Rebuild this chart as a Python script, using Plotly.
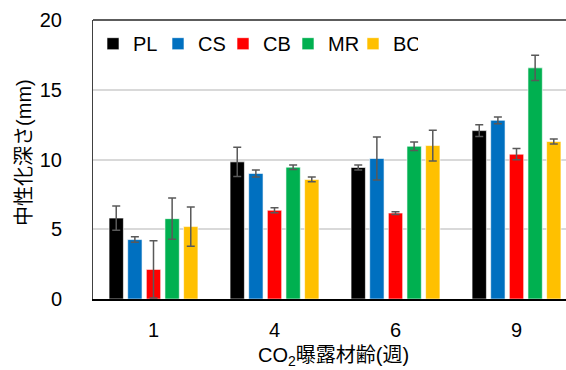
import plotly.graph_objects as go

weeks = ["1", "4", "6", "9"]
series = ["PL", "CS", "CB", "MR", "BC"]
colors = ["#000000", "#0070C0", "#FF0000", "#00B050", "#FFC000"]

PL = [5.8, 9.83, 9.43, 12.07]
CS = [4.26, 9.0, 10.07, 12.81]
CB = [2.12, 6.36, 6.16, 10.38]
MR = [5.76, 9.45, 10.95, 16.57]
BC = [5.19, 8.57, 11.0, 11.29]

PL_err = [0.87, 1.05, 0.18, 0.43]
CS_err = [0.2, 0.25, 1.54, 0.24]
CB_err = [2.05, 0.18, 0.1, 0.4]
MR_err = [1.48, 0.16, 0.3, 0.9]
BC_err = [1.4, 0.17, 1.1, 0.18]

values = [PL, CS, CB, MR, BC]
errors = [PL_err, CS_err, CB_err, MR_err, BC_err]

font_latin = "Liberation Sans, Arial, sans-serif"
font_cjk = "Liberation Sans, Noto Sans CJK JP, sans-serif"

fig = go.Figure()
for name, col, v, e in zip(series, colors, values, errors):
    fig.add_trace(go.Bar(
        name=name, x=weeks, y=v,
        marker=dict(color=col, line=dict(color="rgba(255,255,255,0.6)", width=1)),
        error_y=dict(type="data", array=e, visible=True, color="#595959",
                     thickness=1.5, width=4),
    ))

fig.update_layout(
    width=566, height=370,
    margin=dict(l=93, r=0, t=20, b=71),
    paper_bgcolor="white", plot_bgcolor="white",
    barmode="group", bargap=0.23, bargroupgap=0.23,
    font=dict(family=font_latin, size=20, color="#000000"),
    showlegend=True,
    legend=dict(orientation="h", x=0.0, y=0.985, xanchor="left", yanchor="top",
                font=dict(size=20, family=font_latin), itemwidth=30,
                entrywidth=20, entrywidthmode="pixels",
                bgcolor="rgba(0,0,0,0)", traceorder="normal"),
    xaxis=dict(type="category", range=[-0.5, 3.409], showline=True, linecolor="#000000",
               linewidth=2, ticks="outside", ticklen=12, tickcolor="rgba(0,0,0,0)",
               showgrid=False, tickfont=dict(size=20)),
    yaxis=dict(range=[0, 20], dtick=5, showline=True, linecolor="#404040", linewidth=1,
               ticks="outside", ticklen=26, tickcolor="rgba(0,0,0,0)",
               showgrid=True, gridcolor="#D9D9D9", gridwidth=1.5, zeroline=False,
               tickfont=dict(size=20)),
    shapes=[dict(type="line", xref="paper", yref="paper", x0=0, x1=1, y0=1, y1=1,
                 line=dict(color="#262626", width=1.5))],
    annotations=[
        dict(text="CO<sub>2</sub>曝露材齢(週)", xref="paper", yref="paper",
             x=0.5095, y=-0.2066, xanchor="center", yanchor="middle", showarrow=False,
             font=dict(size=20, family=font_cjk)),
        dict(text="中性化深さ(mm)", xref="paper", yref="paper",
             x=-0.146, y=0.527, xanchor="center", yanchor="middle", showarrow=False,
             textangle=-90, font=dict(size=20, family=font_cjk)),
    ],
)

fig.write_html("out.html", config={"displayModeBar": False},
               post_script="document.body.style.margin='0';document.body.style.overflow='hidden';")
